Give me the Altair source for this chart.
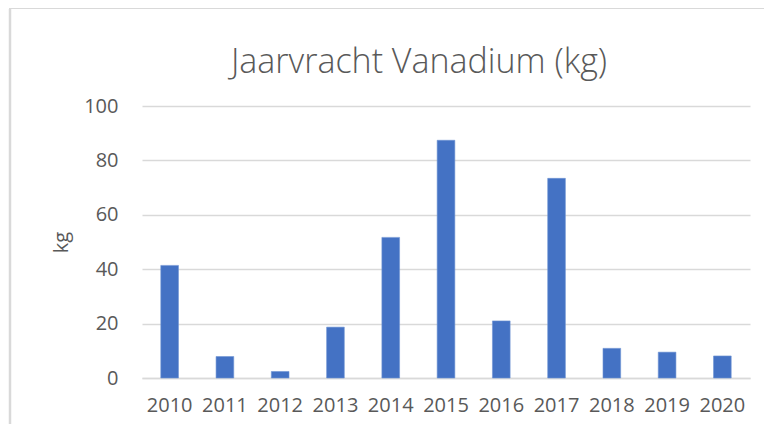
import altair as alt
import pandas as pd

years = ["2010", "2011", "2012", "2013", "2014", "2015", "2016", "2017", "2018", "2019", "2020"]
values = [41.4, 7.9, 2.4, 18.7, 51.7, 87.4, 21.0, 73.4, 10.9, 9.5, 8.1]
y_ticks = [0, 20, 40, 60, 80, 100]
title_text = "Jaarvracht Vanadium (kg)"
y_title = "kg"

df = pd.DataFrame({"jaar": years, "kg": values})
one = pd.DataFrame({"t": [title_text]})

TEXT = "#595959"
GRID = "#D9D9D9"
FONT = "Open Sans"

bars = alt.Chart(df).mark_bar(color="#4472C4", stroke="#6F93D3", strokeWidth=0.6).encode(
    x=alt.X("jaar:N", sort=years,
            scale=alt.Scale(paddingInner=0.68, paddingOuter=0.34),
            axis=alt.Axis(title=None, labelAngle=0, labelFontSize=20, labelColor=TEXT,
                          labelFont=FONT, labelPadding=17, ticks=False, domain=True,
                          domainColor=GRID, domainWidth=1.5, grid=False)),
    y=alt.Y("kg:Q", scale=alt.Scale(domain=[0, 100], nice=False),
            axis=alt.Axis(values=y_ticks, title=y_title, titleFontSize=20, titleFont=FONT,
                          titleColor=TEXT, titleFontWeight="normal", titlePadding=12,
                          labelFontSize=20, labelFont=FONT, labelColor=TEXT, labelPadding=24,
                          ticks=False, domain=False, grid=True, gridColor=GRID, gridWidth=1.5)),
)

frame_left = alt.Chart(one).mark_rule(color=GRID, strokeWidth=2.5).encode(
    x=alt.value(-132), y=alt.value(-97), y2=alt.value(420)
)
frame_top = alt.Chart(one).mark_rule(color=GRID, strokeWidth=2).encode(
    y=alt.value(-98), x=alt.value(-133), x2=alt.value(700)
)

title = alt.Chart(one).mark_text(
    font=FONT, fontSize=34, fontWeight=300, color=TEXT, align="center", baseline="alphabetic"
).encode(text="t:N", x=alt.value(277), y=alt.value(-33))

chart = alt.layer(frame_left, frame_top, title, bars).properties(
    width=608,
    height=272,
    padding={"left": 134, "top": 98, "right": 14, "bottom": 46},
    autosize=alt.AutoSizeParams(type="none"),
).configure(background="white").configure_view(stroke=None)

chart.save("out.html", embed_options={"renderer": "svg", "actions": False})
